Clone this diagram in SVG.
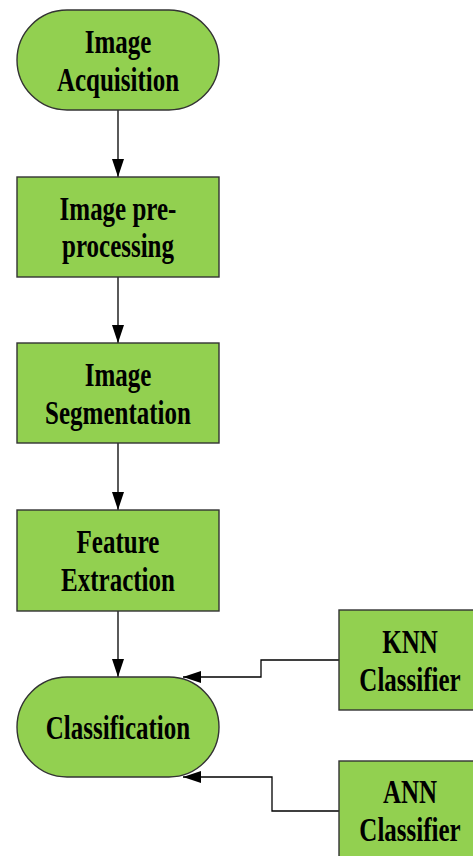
<svg xmlns="http://www.w3.org/2000/svg" width="473" height="856" viewBox="0 0 473 856">
  <style>
    .node { fill: #92d050; stroke: #333333; stroke-width: 1.4; }
    .lbl { font-family: "Liberation Serif", "Times New Roman", serif; font-weight: bold; font-size: 25px; fill: #000000; text-anchor: middle; }
    .conn { fill: none; stroke: #000000; stroke-width: 1.3; }
  </style>
  <defs>
    <marker id="arrow" markerUnits="userSpaceOnUse" markerWidth="18" markerHeight="12" refX="18" refY="6" orient="auto">
      <path d="M0,0 L18,6 L0,12 Z" fill="#000000"/>
    </marker>
  </defs>
  <rect width="473" height="856" fill="#ffffff"/>

  <g id="connectors">
    <line class="conn" x1="118" y1="110" x2="118" y2="177" marker-end="url(#arrow)"/>
    <line class="conn" x1="118" y1="277" x2="118" y2="343" marker-end="url(#arrow)"/>
    <line class="conn" x1="118" y1="443" x2="118" y2="510" marker-end="url(#arrow)"/>
    <line class="conn" x1="118" y1="611" x2="118" y2="677" marker-end="url(#arrow)"/>
    <polyline class="conn" points="339,660 261,660 261,677 183,677" marker-end="url(#arrow)"/>
    <polyline class="conn" points="339,811 272,811 272,777 183,777" marker-end="url(#arrow)"/>
  </g>

  <g id="acquisition">
    <rect class="node" x="17" y="10" width="202" height="100" rx="50" ry="50"/>
    <text class="lbl" transform="translate(118,53) scale(1,1.33)">Image</text>
    <text class="lbl" transform="translate(118,91) scale(1,1.33)">Acquisition</text>
  </g>

  <g id="preprocessing">
    <rect class="node" x="17" y="177" width="202" height="100"/>
    <text class="lbl" transform="translate(118,220) scale(1,1.33)">Image pre-</text>
    <text class="lbl" transform="translate(118,257) scale(1,1.33)">processing</text>
  </g>

  <g id="segmentation">
    <rect class="node" x="17" y="343" width="202" height="100"/>
    <text class="lbl" transform="translate(118,386) scale(1,1.33)">Image</text>
    <text class="lbl" transform="translate(118,424) scale(1,1.33)">Segmentation</text>
  </g>

  <g id="feature-extraction">
    <rect class="node" x="17" y="510" width="202" height="101"/>
    <text class="lbl" transform="translate(118,553) scale(1,1.33)">Feature</text>
    <text class="lbl" transform="translate(118,591) scale(1,1.33)">Extraction</text>
  </g>

  <g id="classification">
    <rect class="node" x="17" y="677" width="202" height="100" rx="50" ry="50"/>
    <text class="lbl" transform="translate(118,739) scale(1,1.33)">Classification</text>
  </g>

  <g id="knn">
    <rect class="node" x="339" y="610" width="142" height="100"/>
    <text class="lbl" transform="translate(410,653) scale(1,1.33)">KNN</text>
    <text class="lbl" transform="translate(410,691) scale(1,1.33)">Classifier</text>
  </g>

  <g id="ann">
    <rect class="node" x="339" y="761" width="142" height="100"/>
    <text class="lbl" transform="translate(410,803) scale(1,1.33)">ANN</text>
    <text class="lbl" transform="translate(410,841) scale(1,1.33)">Classifier</text>
  </g>
</svg>
